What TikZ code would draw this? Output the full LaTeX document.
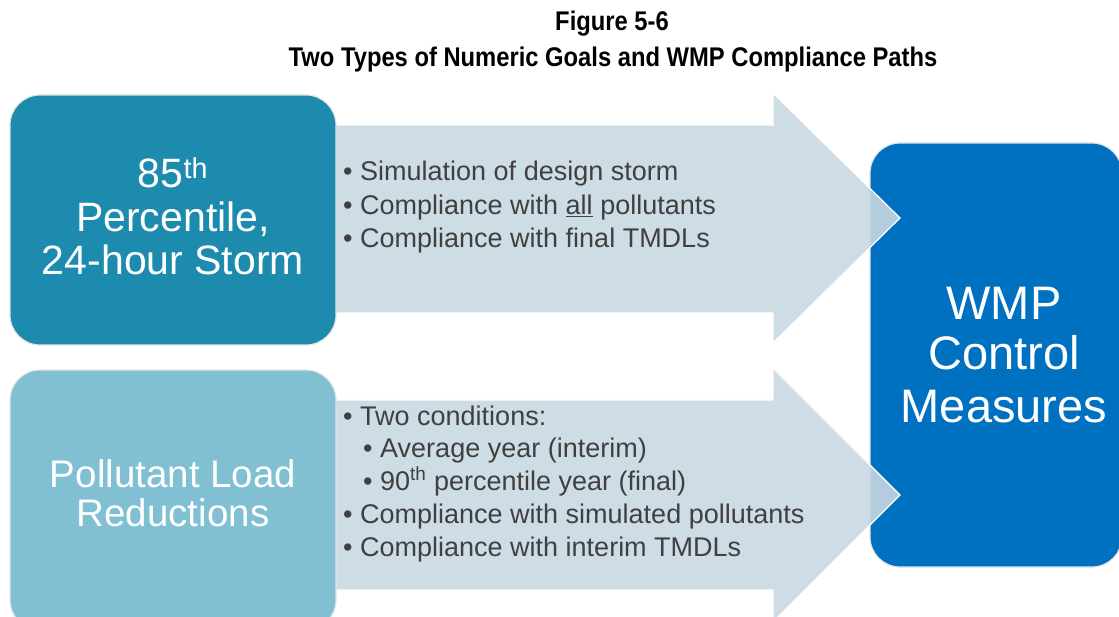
\documentclass[tikz,border=0pt]{standalone}
\usepackage{fontspec}
\setmainfont{Liberation Sans}
\newfontfamily\narrowfont[FakeStretch=0.88]{Liberation Sans}

\definecolor{stormteal}{RGB}{29,139,174}
\definecolor{loadblue}{RGB}{128,192,210}
\definecolor{wmpblue}{RGB}{0,112,192}
\definecolor{pathgray}{RGB}{200,216,226}
\definecolor{listgray}{RGB}{64,64,64}

\tikzset{
  goalbox/.style={draw=black!10, line width=1.2pt, rounded corners=30pt, inner sep=0pt},
  pathshape/.style={fill=pathgray, fill opacity=0.9, draw=white, line width=1.2pt},
  boxtext/.style={text=white, inner sep=0pt, anchor=base},
  listline/.style={text=listgray, inner sep=0pt, anchor=base west,
    font=\fontsize{27}{33}\selectfont},
  titletext/.style={inner sep=0pt, anchor=base,
    font=\narrowfont\bfseries\fontsize{27}{29}\selectfont},
}
\newcommand{\bul}{\makebox[17pt][l]{\textbullet}}

\begin{document}
\begin{tikzpicture}[x=1pt,y=-1pt]
\useasboundingbox (0,0) rectangle (1119,617);
\clip (0,0) rectangle (1119,617);

% heading
\node[titletext] (fig) at (612,31) {Figure 5-6};
\node[titletext] (figtitle) at (613,67) {Two Types of Numeric Goals and WMP Compliance Paths};

% target box on the right
\node[goalbox, fill=wmpblue, minimum width=252pt, minimum height=424pt] (wmp) at (996,355) {};

% the two compliance paths
\draw[pathshape] (300,125) -- (773,125) -- (773,93) -- (900,218)
  -- (773,343) -- (773,313) -- (300,313) -- cycle;
\draw[pathshape] (300,400) -- (773,400) -- (773,368) -- (900,495)
  -- (773,622) -- (773,590) -- (300,590) -- cycle;

% goal boxes on the left
\node[goalbox, fill=stormteal, minimum width=326pt, minimum height=250pt] (storm) at (173,220) {};
\node[goalbox, fill=loadblue, minimum width=326pt, minimum height=260pt] (load) at (173,500) {};

% box labels
\begin{scope}[every node/.style={boxtext, font=\fontsize{41}{44}\selectfont}]
  \node (storm1) at (173,188) {85\textsuperscript{th}};
  \node (storm2) at (173,232) {Percentile,};
  \node (storm3) at (173,275) {24-hour Storm};
\end{scope}
\begin{scope}[every node/.style={boxtext, font=\fontsize{38.5}{40}\selectfont}]
  \node (load1) at (173,487) {Pollutant Load};
  \node (load2) at (173,526) {Reductions};
\end{scope}
\begin{scope}[every node/.style={boxtext, font=\fontsize{47}{51}\selectfont}]
  \node (wmp1) at (1004,320) {WMP};
  \node (wmp2) at (1004,370) {Control};
  \node (wmp3) at (1004,422) {Measures};
\end{scope}

% bullets on the upper path
\node[listline] (up1) at (343,181) {\bul Simulation of design storm};
\node[listline] (up2) at (343,214.5) {\bul Compliance with \underline{all} pollutants};
\node[listline] (up3) at (343,248) {\bul Compliance with final TMDLs};

% bullets on the lower path
\node[listline] (lo1) at (343,425) {\bul Two conditions:};
\node[listline] (lo2) at (363,457) {\bul Average year (interim)};
\node[listline] (lo3) at (363,490) {\bul 90\textsuperscript{th} percentile year (final)};
\node[listline] (lo4) at (343,523) {\bul Compliance with simulated pollutants};
\node[listline] (lo5) at (343,556) {\bul Compliance with interim TMDLs};
\end{tikzpicture}
\end{document}
